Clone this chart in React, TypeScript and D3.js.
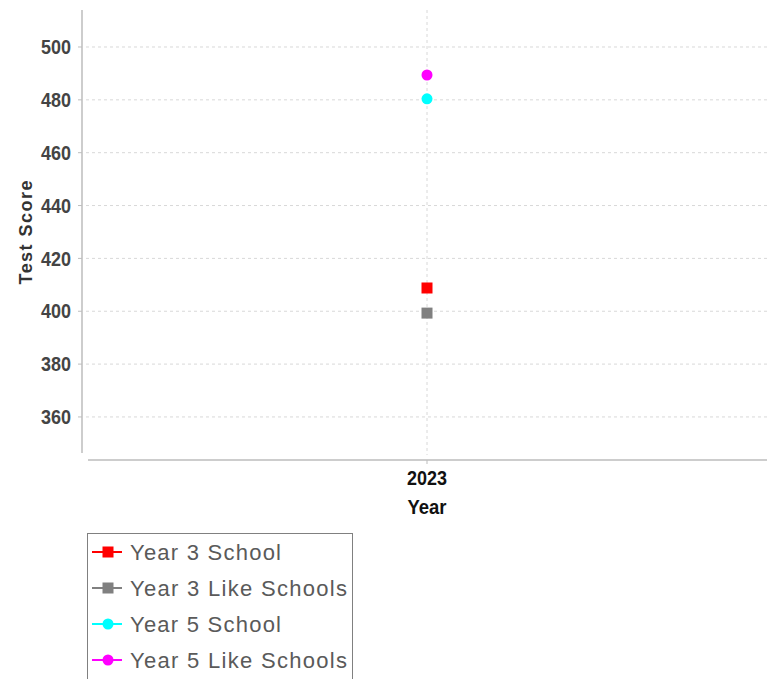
import React from "react";
import * as d3 from "d3";

const categories = ["2023"];
const seriesNames = ["Year 3 School", "Year 3 Like Schools", "Year 5 School", "Year 5 Like Schools"];
const seriesValues = [408.8, 399.3, 480.4, 489.4];
const seriesColors = ["#ff0000", "#808080", "#00ffff", "#ff00ff"];
const seriesShapes = ["square", "square", "circle", "circle"];
const yTicks = [360, 380, 400, 420, 440, 460, 480, 500];

const W = 775;
const H = 679;
const plot = { left: 86, right: 768, top: 10, bottom: 455 };
const font = "'Liberation Sans', Arial, sans-serif";

export default function App() {
  const y = d3.scaleLinear().domain([345.6, 514]).range([plot.bottom, plot.top]);
  const x = d3.scalePoint<string>().domain(categories).range([plot.left, plot.right]).padding(0.5);

  const marker = (shape: string, cx: number, cy: number, color: string, key: string) =>
    shape === "square" ? (
      <rect key={key} x={cx - 5.5} y={cy - 5.5} width={11} height={11} fill={color} />
    ) : (
      <circle key={key} cx={cx} cy={cy} r={5.5} fill={color} />
    );

  const legendWidth = (s: string) => (s.length > 14 ? 217 : 151);

  return (
    <svg width={W} height={H} style={{ position: "absolute", left: 0, top: 0, background: "#fff" }}>
      {/* gridlines */}
      {yTicks.map((t) => (
        <line key={"g" + t} x1={plot.left} x2={plot.right} y1={y(t)} y2={y(t)} stroke="#d8d8d8" strokeDasharray="3,3" strokeWidth={1} />
      ))}
      {categories.map((c) => (
        <line key={"gx" + c} x1={x(c)!} x2={x(c)!} y1={plot.top} y2={plot.bottom} stroke="#d8d8d8" strokeDasharray="3,3" strokeWidth={1} />
      ))}
      {/* y axis */}
      <line x1={82} x2={82} y1={plot.top} y2={453} stroke="#bdbdbd" strokeWidth={1.5} />
      {yTicks.map((t) => (
        <g key={"t" + t}>
          <line x1={78} x2={82} y1={y(t)} y2={y(t)} stroke="#bdbdbd" strokeWidth={1} />
          <text
            x={71}
            y={y(t)}
            dy="0.36em"
            textAnchor="end"
            fontFamily={font}
            fontWeight="bold"
            fontSize={20}
            fill="#444"
            textLength={String(t).length * 10}
            lengthAdjust="spacingAndGlyphs"
          >
            {t}
          </text>
        </g>
      ))}
      <text
        transform={`translate(32, ${(plot.top + plot.bottom) / 2}) rotate(-90)`}
        textAnchor="middle"
        fontFamily={font}
        fontWeight="bold"
        fontSize={18}
        fill="#333"
        textLength={104}
        lengthAdjust="spacing"
      >
        Test Score
      </text>
      {/* x axis */}
      <line x1={88} x2={767} y1={460} y2={460} stroke="#bdbdbd" strokeWidth={1.5} />
      {categories.map((c) => (
        <g key={"xt" + c}>
          <line x1={x(c)!} x2={x(c)!} y1={460} y2={464} stroke="#bdbdbd" />
          <text
            x={x(c)!}
            y={485}
            textAnchor="middle"
            fontFamily={font}
            fontWeight="bold"
            fontSize={20}
            fill="#111"
            textLength={c.length * 10}
            lengthAdjust="spacingAndGlyphs"
          >
            {c}
          </text>
        </g>
      ))}
      <text
        x={x(categories[0])!}
        y={514}
        textAnchor="middle"
        fontFamily={font}
        fontWeight="bold"
        fontSize={21}
        fill="#111"
        textLength={39}
        lengthAdjust="spacingAndGlyphs"
      >
        Year
      </text>
      {/* points */}
      {seriesValues.map((v, i) => marker(seriesShapes[i], x(categories[0])!, y(v), seriesColors[i], "p" + i))}
      {/* legend */}
      <rect x={87.5} y={533.5} width={265} height={150} fill="#fff" stroke="#808080" strokeWidth={1} />
      {seriesNames.map((n, i) => {
        const cy = 552 + i * 36;
        return (
          <g key={"l" + i}>
            <line x1={92} x2={122} y1={cy} y2={cy} stroke={seriesColors[i]} strokeWidth={2} />
            {marker(seriesShapes[i], 108, cy, seriesColors[i], "lm" + i)}
            <text
              x={130}
              y={cy}
              dy="0.36em"
              fontFamily={font}
              fontSize={22}
              fill="#5a5a5a"
              textLength={legendWidth(n)}
              lengthAdjust="spacing"
            >
              {n}
            </text>
          </g>
        );
      })}
    </svg>
  );
}
